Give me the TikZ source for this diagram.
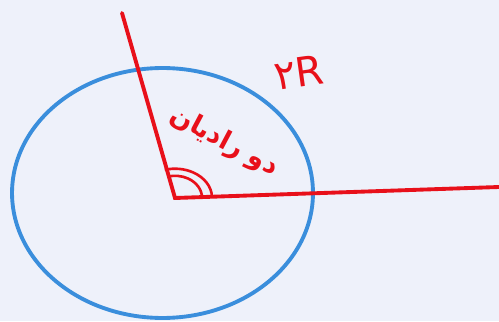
\documentclass[tikz,border=0pt]{standalone}
\usepackage{fontspec}
\newfontfamily\arabicfont[Script=Arabic]{DejaVu Sans}
\TeXXeTstate=1
\definecolor{bgpaper}{HTML}{EEF1FA}
\definecolor{penred}{HTML}{E8101A}
\definecolor{penblue}{HTML}{3A8EDC}

\begin{document}
\begin{tikzpicture}[x=0.02cm, y=0.02cm,
    ray/.style={draw=penred, line width=2.2pt, line cap=round, line join=miter},
    circ/.style={draw=penblue, line width=2.2pt},
    anglemark/.style={draw=penred, line width=1.5pt},
    penlabel/.style={text=penred, inner sep=0pt}
]
\fill[bgpaper] (0,0) rectangle (499,321);
\useasboundingbox (0,0) rectangle (499,321);

% circle
\draw[circ] (162.5,128) ellipse [x radius=3.01cm, y radius=2.5cm];

% the two rays
\coordinate (vertex) at (175,123);
\coordinate (tipA) at (122,308);
\coordinate (tipB) at (499,134);
\draw[ray] (tipA) -- (vertex) -- (tipB);

% angle marks
\draw[anglemark] (vertex) ++(27,0.6) arc[start angle=1, end angle=106, x radius=0.54cm, y radius=0.44cm];
\draw[anglemark] (vertex) ++(37,0.8) arc[start angle=1, end angle=106, x radius=0.74cm, y radius=0.58cm];

% labels
\node[penlabel, rotate=-28] (radtext) at (224,179)
    {\fontsize{15}{18}\selectfont\arabicfont\bfseries\beginR دو رادیان\endR};
\node[penlabel, rotate=8] (twoR) at (299,249)
    {\fontsize{23}{27}\selectfont\arabicfont ۲R};
\end{tikzpicture}
\end{document}
